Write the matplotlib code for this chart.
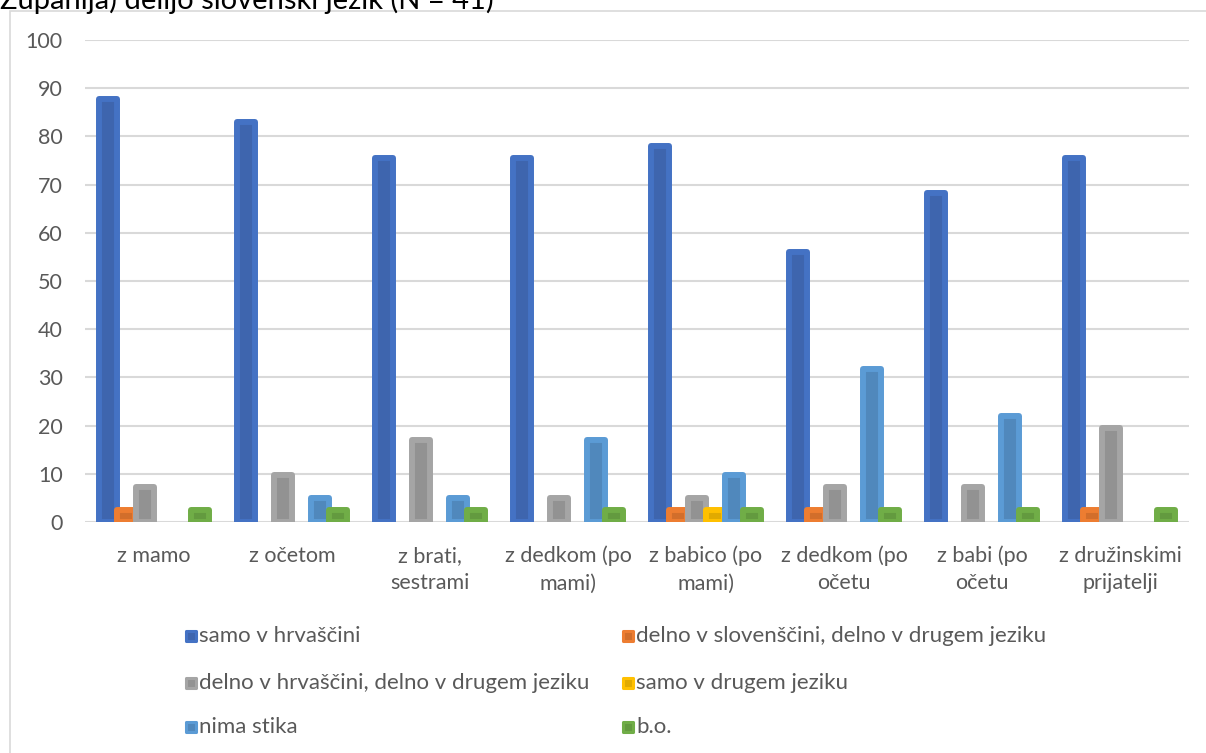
import matplotlib.pyplot as plt
from matplotlib.patches import Rectangle
import numpy as np

plt.rcParams['font.family'] = ['Lato', 'DejaVu Sans']

# data (percent of N = 41)
categories = ['z mamo', 'z očetom', 'z brati,\nsestrami', 'z dedkom (po\nmami)',
              'z babico (po\nmami)', 'z dedkom (po\nočetu', 'z babi (po\nočetu',
              'z družinskimi\nprijatelji']
series_names = ['samo v hrvaščini', 'delno v slovenščini, delno v drugem jeziku',
                'delno v hrvaščini, delno v drugem jeziku', 'samo v drugem jeziku',
                'nima stika', 'b.o.']
samo_hr = [87.8, 82.9, 75.6, 75.6, 78.0, 56.1, 68.3, 75.6]
delno_slo = [2.44, 0, 0, 0, 2.44, 2.44, 0, 2.44]
delno_hr = [7.32, 9.76, 17.07, 4.88, 4.88, 7.32, 7.32, 19.5]
samo_drugi = [0, 0, 0, 0, 2.44, 0, 0, 0]
nima_stika = [0, 4.88, 4.88, 17.07, 9.76, 31.7, 21.95, 0]
bo = [2.44, 2.44, 2.44, 2.44, 2.44, 2.44, 2.44, 2.44]
values = [samo_hr, delno_slo, delno_hr, samo_drugi, nima_stika, bo]

edge_colors = ['#4472C4', '#ED7D31', '#A5A5A5', '#FFC000', '#5B9BD5', '#70AD47']
face_colors = ['#3E65AE', '#D26E2B', '#929292', '#E1AA00', '#5088BC', '#639A3F']

fig = plt.figure(figsize=(12.06, 7.53), dpi=100)
ax = fig.add_axes([85 / 1206, 1 - 522 / 753, (1189 - 85) / 1206, (522 - 40) / 753])

x = np.arange(len(categories))
step = 0.1333
width = 0.13
for i, vals in enumerate(values):
    offs = (i - 2.5) * step
    v = np.array(vals)
    mask = v > 0
    ax.bar(x[mask] + offs, v[mask], width=width, color=face_colors[i],
           edgecolor=edge_colors[i], linewidth=4.3, joinstyle='round', zorder=3 + i)

ax.set_xlim(-0.5, len(categories) - 0.5)
ax.set_ylim(0, 100)
ax.set_yticks(np.arange(0, 101, 10))
ax.set_xticks(x)
ax.set_xticklabels(categories, linespacing=1.45)
ax.tick_params(axis='y', length=0, pad=16, labelsize=15.5, labelcolor='#595959')
ax.tick_params(axis='x', length=0, pad=17, labelsize=15.5, labelcolor='#595959')
ax.grid(axis='y', color='#D9D9D9', linewidth=1.5, zorder=0)
ax.set_axisbelow(True)
for s in ax.spines.values():
    s.set_visible(False)

# legend, filled row by row in two columns
col_x = [185, 622]
row_y = [636, 683, 727]
for i, name in enumerate(series_names):
    cx = col_x[i % 2]
    cy = row_y[i // 2]
    fig.patches.append(Rectangle(((cx + 1) / 1206, 1 - (cy + 5) / 753), 10 / 1206, 10 / 753,
                                 transform=fig.transFigure, facecolor=face_colors[i],
                                 edgecolor=edge_colors[i], linewidth=2.2, joinstyle='round'))
    fig.text((cx + 14) / 1206, 1 - cy / 753, name, fontsize=16, color='#595959',
             va='center', ha='left')

# chart frame
fig.patches.append(Rectangle((10 / 1206, 1 - 1000 / 753), 1500 / 1206, 989 / 753,
                             transform=fig.transFigure, facecolor='none',
                             edgecolor='#D9D9D9', linewidth=1.2))

# title, cut off by the top edge
fig.text(0.0, 1 - 9 / 753, 'Županija) delijo slovenski jezik (N = 41)', fontsize=21,
         color='#000000', va='baseline', ha='left')

fig.savefig('out.png', dpi=100)
